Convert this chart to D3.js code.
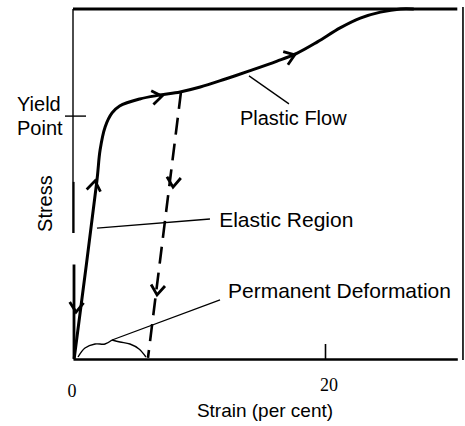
<!DOCTYPE html>
<html><head><meta charset="utf-8">
<script src="https://cdn.jsdelivr.net/npm/d3@7"></script>
<style>body{margin:0;background:#fff}</style>
</head><body><svg id="c" width="465" height="426"></svg>
<script>
// ---- data (strain in per cent, stress in arbitrary units 0-100) ----
const curveStrain = [0.1, 1.9, 2.15, 2.55, 3.1, 3.7, 5.3, 6.9, 8.5, 10.1, 12.1, 14.0, 16.2, 17.8, 19.4, 21.2, 22.8, 24.4, 26.0, 27.0];
const curveStress = [0.3, 51.0, 59.7, 66.3, 70.3, 72.3, 74.3, 75.4, 76.3, 77.7, 80.0, 82.3, 85.1, 87.4, 90.6, 94.6, 97.4, 99.1, 100, 100];
const unloadStrain = [8.57, 5.95];
const unloadStress = [76.3, 0.3];
const arrowTipStrain  = [1.75, 0.24, 7.06, 17.6, 7.94, 6.67];
const arrowTipStress  = [50.9, 13.4, 75.1, 86.9, 49.1, 18.3];
const arrowTailStrain = [1.5, 0.45, 5.5, 16.2, 8.2, 6.95];
const arrowTailStress = [45.0, 25.0, 74.2, 85.1, 60.0, 28.0];
const leaderLabels = ["Plastic Flow", "Elastic Region", "Permanent Deformation"];
const leaderFromStrain = [13.97, 1.9, 3.1];
const leaderFromStress = [80.9, 37.4, 5.43];
const leaderToStrain = [17.14, 10.87, 11.67];
const leaderToStress = [72.9, 40.0, 16.9];
const braceLeftStrain = [0.40, 0.95, 1.75, 2.54, 3.10];
const braceLeftStress = [0.57, 3.14, 4.29, 4.29, 5.43];
const braceRightStrain = [3.10, 3.73, 4.52, 5.24, 5.79];
const braceRightStress = [5.43, 4.86, 4.29, 2.86, 0.57];
const yieldStress = 69.4;
const xTickValues = [0, 20];
const xTickLabels = ["0", "20"];
const xTitle = "Strain (per cent)";
const yTitle = "Stress";
const yieldLabel = ["Yield", "Point"];

// ---- scales ----
const x = d3.scaleLinear().domain([0, 20]).range([73, 325]);
const y = d3.scaleLinear().domain([0, 100]).range([359, 9]);
const svg = d3.select("#c");
const sans = "'Liberation Sans', Arial, Helvetica, sans-serif";
const serif = "'Liberation Serif', 'Times New Roman', serif";

// frame
const xAxisScale = x.copy().domain([0, 30.5]).range([x(0), x(30.5)]);
const gx = svg.append("g").attr("transform", `translate(0,${y(0)})`)
  .call(d3.axisBottom(xAxisScale).tickValues([xTickValues[1]]).tickSizeInner(-15).tickSizeOuter(0).tickFormat(""));
gx.select(".domain").attr("stroke", "#000").attr("stroke-width", 2.6);
gx.selectAll(".tick line").attr("stroke", "#000").attr("stroke-width", 1.6);

svg.append("line").attr("x1", x(0)).attr("x2", x(30.5)).attr("y1", y(100)).attr("y2", y(100))
  .attr("stroke", "#000").attr("stroke-width", 2.8);
svg.append("line").attr("x1", x(30.95)).attr("x2", x(30.95)).attr("y1", y(100.6)).attr("y2", y(-0.3))
  .attr("stroke", "#000").attr("stroke-width", 1.6);

// left axis segments
const ySegs = [[100, 50.6, 1.4, 0], [50.6, 36.0, 2.4, 0.4], [27.0, 0, 2.8, 1]];
ySegs.forEach(s => svg.append("line").attr("x1", x(0) + s[3]).attr("x2", x(0) + s[3])
  .attr("y1", y(s[0])).attr("y2", y(s[1])).attr("stroke", "#000").attr("stroke-width", s[2]));

// yield tick
svg.append("line").attr("x1", x(0) - 8).attr("x2", x(0) + 13).attr("y1", y(yieldStress)).attr("y2", y(yieldStress))
  .attr("stroke", "#000").attr("stroke-width", 1.4);

// tick labels
xTickValues.forEach((v, i) => {
  svg.append("text").attr("x", x(v) + (i === 0 ? -1 : 4)).attr("y", i === 0 ? 397 : 391)
    .attr("text-anchor", "middle").attr("font-family", serif).attr("font-size", 18).text(xTickLabels[i]);
});

// titles
svg.append("text").attr("x", 265).attr("y", 417).attr("text-anchor", "middle")
  .attr("font-family", sans).attr("font-size", 19).text(xTitle);
svg.append("text").attr("transform", `translate(52,${y(36.3)}) rotate(-90)`).attr("text-anchor", "start")
  .attr("font-family", sans).attr("font-size", 20).text(yTitle);
yieldLabel.forEach((t, i) => svg.append("text").attr("x", 17).attr("y", 111 + i * 24)
  .attr("font-family", sans).attr("font-size", 20).text(t));

// main curve
const line = d3.line().x(d => x(d[0])).y(d => y(d[1]));
const curvePts = curveStrain.map((s, i) => [s, curveStress[i]]);
svg.append("path").attr("d", line.curve(d3.curveCatmullRom.alpha(0.5))(curvePts))
  .attr("fill", "none").attr("stroke", "#000").attr("stroke-width", 3).attr("stroke-linecap", "round");

// unloading dashed
const unloadPts = unloadStrain.map((s, i) => [s, unloadStress[i]]);
svg.append("path").attr("d", d3.line().x(d => x(d[0])).y(d => y(d[1]))(unloadPts))
  .attr("fill", "none").attr("stroke", "#000").attr("stroke-width", 2.6).attr("stroke-dasharray", "17,9");

// arrows
arrowTipStrain.forEach((s, i) => {
  const tx = x(s), ty = y(arrowTipStress[i]);
  const bx = x(arrowTailStrain[i]), by = y(arrowTailStress[i]);
  const a = Math.atan2(ty - by, tx - bx), L = 12, h = 0.62;
  const p1 = [tx - L * Math.cos(a - h), ty - L * Math.sin(a - h)];
  const p2 = [tx - L * Math.cos(a + h), ty - L * Math.sin(a + h)];
  svg.append("path").attr("d", `M${p1}L${tx},${ty}L${p2}`).attr("fill", "none")
    .attr("stroke", "#000").attr("stroke-width", 2.8).attr("stroke-linejoin", "miter");
});

// leaders & labels
const labelPos = [[13.25, 66.9, 20], [11.6, 37.7, 21], [12.3, 17.5, 21]];
leaderLabels.forEach((t, i) => {
  svg.append("line").attr("x1", x(leaderFromStrain[i])).attr("y1", y(leaderFromStress[i]))
    .attr("x2", x(leaderToStrain[i])).attr("y2", y(leaderToStress[i])).attr("stroke", "#000").attr("stroke-width", 1.3);
  svg.append("text").attr("x", x(labelPos[i][0])).attr("y", y(labelPos[i][1]))
    .attr("font-family", sans).attr("font-size", labelPos[i][2]).text(t);
});

// brace
const braceLine = d3.line().x(d => x(d[0])).y(d => y(d[1])).curve(d3.curveCatmullRom.alpha(0.5));
[[braceLeftStrain, braceLeftStress], [braceRightStrain, braceRightStress]].forEach(b => {
  svg.append("path").attr("d", braceLine(b[0].map((s, i) => [s, b[1][i]])))
    .attr("fill", "none").attr("stroke", "#000").attr("stroke-width", 1.4);
});
</script></body></html>
